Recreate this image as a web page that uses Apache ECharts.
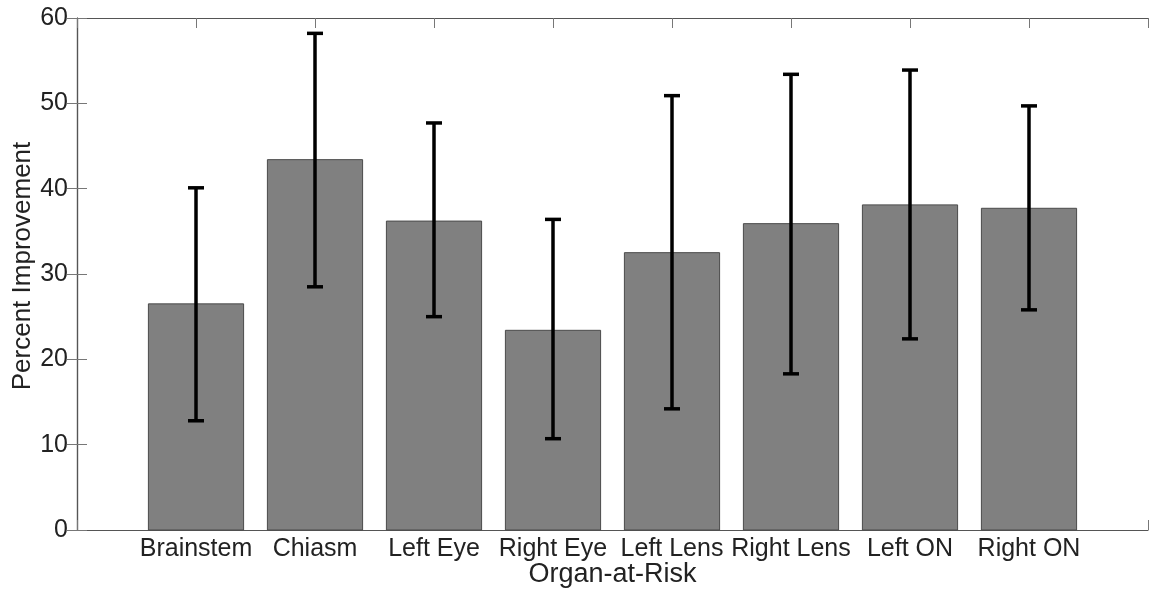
<!DOCTYPE html>
<html>
<head>
<meta charset="utf-8">
<script src="https://cdn.jsdelivr.net/npm/echarts@6/dist/echarts.min.js"></script>
<style>
html,body{margin:0;padding:0;background:#fff;}
#chart{width:1149px;height:589px;}
</style>
</head>
<body>
<div id="chart"></div>
<script>
const categories = ['Brainstem', 'Chiasm', 'Left Eye', 'Right Eye', 'Left Lens', 'Right Lens', 'Left ON', 'Right ON'];
const meanValues = [26.5, 43.4, 36.2, 23.4, 32.5, 35.9, 38.1, 37.7];
const errorLow = [12.8, 28.5, 25.0, 10.7, 14.2, 18.3, 22.4, 25.8];
const errorHigh = [40.1, 58.2, 47.7, 36.4, 50.9, 53.4, 53.9, 49.7];
const yTicks = [0, 10, 20, 30, 40, 50, 60];

const FONT = 'Liberation Sans, Arial, sans-serif';
const barData = meanValues.map((v, i) => [i + 1, v]);
const errData = categories.map((c, i) => [i + 1, errorLow[i], errorHigh[i]]);

const chart = echarts.init(document.getElementById('chart'), null, {renderer: 'canvas'});
const axisLineColor = '#555';
const tickColor = '#777';
const textColor = '#222';

const baseX = {
  type: 'value', min: 0, max: categories.length + 1, interval: 1,
  splitLine: {show: false},
  axisLine: {show: true, onZero: false, lineStyle: {color: axisLineColor, width: 1.2}},
  axisTick: {show: true, inside: true, length: 10, lineStyle: {color: tickColor}},
};
const baseY = {
  type: 'value', min: yTicks[0], max: yTicks[yTicks.length - 1], interval: 10,
  splitLine: {show: false},
  axisLine: {show: true, lineStyle: {color: axisLineColor, width: 1.2}},
  axisTick: {show: true, inside: true, length: 10, lineStyle: {color: tickColor}},
};

chart.setOption({
  animation: false,
  backgroundColor: '#fff',
  grid: {left: 77, right: 1, top: 18, bottom: 59, containLabel: false, outerBoundsMode: 'none'},
  xAxis: [
    Object.assign({}, baseX, {
      position: 'bottom',
      name: 'Organ-at-Risk', nameLocation: 'middle', nameGap: 31, nameMoveOverlap: false,
      nameTextStyle: {fontFamily: FONT, fontSize: 27, color: textColor},
      axisLabel: {
        show: true, margin: 7, fontFamily: FONT, fontSize: 25, color: textColor,
        formatter: v => categories[v - 1] || ''
      }
    }),
    Object.assign({}, baseX, {position: 'top', axisLabel: {show: false}})
  ],
  yAxis: [
    Object.assign({}, baseY, {
      position: 'left',
      name: 'Percent Improvement', nameLocation: 'middle', nameGap: 41, nameMoveOverlap: false,
      nameTextStyle: {fontFamily: FONT, fontSize: 26, color: textColor, padding: [0, 0, 0, 16]},
      axisLabel: {show: true, margin: 9, fontFamily: FONT, fontSize: 25, color: textColor}
    }),
    Object.assign({}, baseY, {position: 'right', axisLabel: {show: false}})
  ],
  series: [
    {
      type: 'custom',
      xAxisIndex: 0, yAxisIndex: 0,
      data: barData,
      renderItem: function (params, api) {
        const x = api.value(0), v = api.value(1);
        const p1 = api.coord([x - 0.4, v]);
        const p2 = api.coord([x + 0.4, 0]);
        return {
          type: 'rect',
          shape: {x: p1[0], y: p1[1], width: p2[0] - p1[0], height: p2[1] - p1[1]},
          style: {fill: '#808080', stroke: '#4a4a4a', lineWidth: 1}
        };
      },
      z: 2
    },
    {
      type: 'custom',
      xAxisIndex: 0, yAxisIndex: 0,
      data: errData,
      renderItem: function (params, api) {
        const x = api.value(0);
        const lo = api.coord([x, api.value(1)]);
        const hi = api.coord([x, api.value(2)]);
        const hw = 8;
        const st = {stroke: '#000', lineWidth: 3.5};
        return {
          type: 'group',
          children: [
            {type: 'line', shape: {x1: lo[0], y1: lo[1], x2: hi[0], y2: hi[1]}, style: st},
            {type: 'line', shape: {x1: lo[0] - hw, y1: lo[1], x2: lo[0] + hw, y2: lo[1]}, style: st},
            {type: 'line', shape: {x1: hi[0] - hw, y1: hi[1], x2: hi[0] + hw, y2: hi[1]}, style: st}
          ]
        };
      },
      z: 3
    }
  ]
});
</script>
</body>
</html>
